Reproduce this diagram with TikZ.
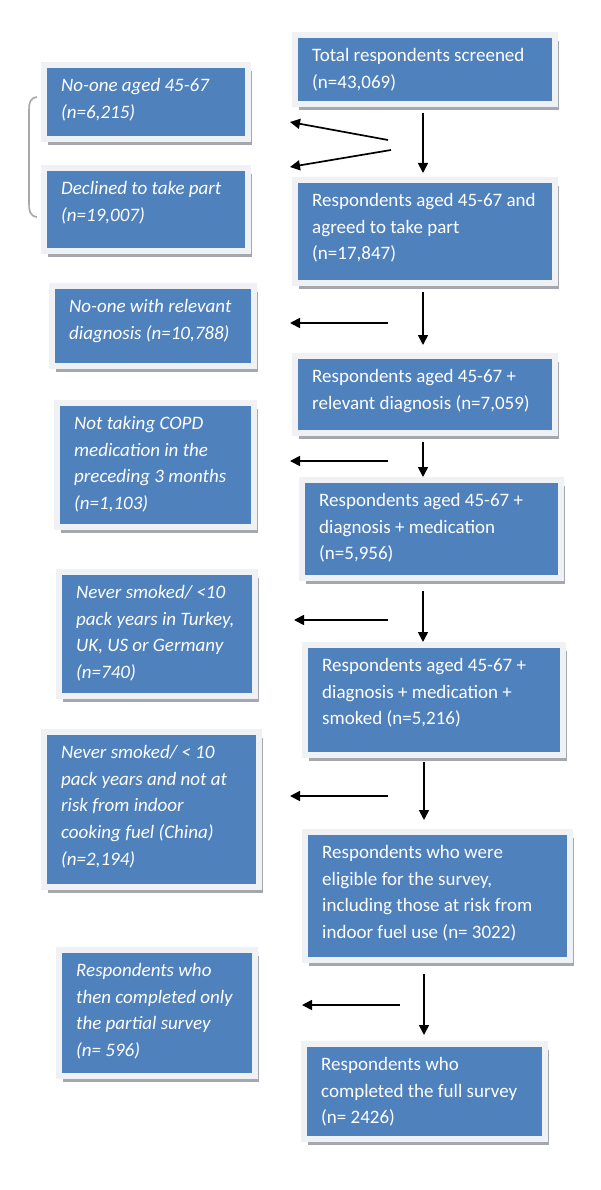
\documentclass[tikz,border=0pt]{standalone}
\usepackage{fontspec}
\setmainfont{Carlito}
\usetikzlibrary{arrows.meta,shadows}
\definecolor{boxblue}{HTML}{4F81BD}
\definecolor{framec}{HTML}{F0F1F4}
\definecolor{shadowc}{HTML}{A4A7AD}
\definecolor{bracec}{HTML}{A8A8A8}
\newcommand\flowbox[6]{%
  \pgfmathsetmacro\fbW{#4-#2+6}\pgfmathsetmacro\fbH{#5-#3+6}%
  \node[box, minimum width=\fbW pt, minimum height=\fbH pt] (#1) at ({(#2+#4)/2},{(#3+#5)/2}) {};
  \node[txt, anchor=north west] (#1t) at ({#2+14},{#3+10}) {#6};
}
\tikzset{
  box/.style={rectangle, draw=framec, line width=6pt, fill=boxblue, inner sep=0pt,
    drop shadow={shadow xshift=3.5pt, shadow yshift=-6pt, fill=shadowc, opacity=1}},
  txt/.style={align=left, inner sep=0pt, text=white,
    font=\fontsize{19}{26.7}\selectfont},
  arr/.style={line width=1.7pt, -{Triangle[length=10pt,width=10pt]}},
  bracket/.style={draw=bracec, line width=1.6pt}
}
\begin{document}
\begin{tikzpicture}[x=1pt,y=-1pt]
\useasboundingbox[fill=white] (0,0) rectangle (600,1190);
% right column
\flowbox{total}{298}{38}{552}{101}{Total respondents screened\\(n=43,069)}
\flowbox{agreed}{298}{183}{552}{280}{Respondents aged 45-67 and\\agreed to take part\\(n=17,847)}
\flowbox{relev}{298}{359}{552}{430}{Respondents aged 45-67 +\\relevant diagnosis (n=7,059)}
\flowbox{diagmed}{305}{483}{558}{575}{Respondents aged 45-67 +\\diagnosis + medication\\(n=5,956)}
\flowbox{smoked}{308}{648}{560}{752}{Respondents aged 45-67 +\\diagnosis + medication +\\smoked (n=5,216)}
\flowbox{elig}{308}{835}{567}{957}{Respondents who were\\eligible for the survey,\\including those at risk from\\indoor fuel use (n= 3022)}
\flowbox{full}{307}{1047}{542}{1136}{Respondents who\\completed the full survey\\(n= 2426)}
% left column
\flowbox{noage}{47}{68}{245}{136}{\itshape No-one aged 45-67\\\itshape (n=6,215)}
\flowbox{declined}{47}{171}{245}{248}{\itshape Declined to take part\\\itshape (n=19,007)}
\flowbox{nodiag}{55}{289}{251}{363}{\itshape No-one with relevant\\\itshape diagnosis (n=10,788)}
\flowbox{nomed}{60}{406}{251}{524}{\itshape Not taking COPD\\\itshape medication in the\\\itshape preceding 3 months\\\itshape (n=1,103)}
\flowbox{nosmoke}{62}{575}{252}{693}{\itshape Never smoked/ <10\\\itshape pack years in Turkey,\\\itshape UK, US or Germany\\\itshape (n=740)}
\flowbox{nochina}{47}{735}{256}{884}{\itshape Never smoked/ < 10\\\itshape pack years and not at\\\itshape risk from indoor\\\itshape cooking fuel (China)\\\itshape (n=2,194)}
\flowbox{partial}{62}{953}{252}{1073}{\itshape Respondents who\\\itshape then completed only\\\itshape the partial survey\\\itshape (n= 596)}
% bracket
\draw[bracket] (37,97) .. controls (30,98) and (29,103) .. (29,110) -- (29,204) .. controls (29,211) and (30,216) .. (37,217);
% coordinates for arrow columns
\coordinate (vx1) at (423,0);
\coordinate (vx2) at (424,0);
% vertical arrows
\draw[arr, shorten <=6pt, shorten >=4pt] (total.south -| vx1) -- (agreed.north -| vx1);
\draw[arr, shorten <=6pt, shorten >=8pt] (agreed.south -| vx1) -- (relev.north -| vx1);
\draw[arr, shorten <=6pt, shorten >=0pt] (relev.south -| vx1) -- (diagmed.north -| vx1);
\draw[arr, shorten <=10pt, shorten >=0pt] (diagmed.south -| vx1) -- (smoked.north -| vx1);
\draw[arr, shorten <=4pt, shorten >=9pt] (smoked.south -| vx2) -- (elig.north -| vx2);
\draw[arr, shorten <=11pt, shorten >=6pt] (elig.south -| vx2) -- (full.north -| vx2);
% split arrows to excluded boxes
\coordinate (s1) at (388,140);
\coordinate (s2) at (391,150);
\coordinate (t1) at (290,122);
\coordinate (t2) at (290,167);
\draw[arr] (s1) -- (t1);
\draw[arr] (s2) -- (t2);
\coordinate (h1) at (388,323);
\coordinate (h2) at (388,461);
\coordinate (h3) at (388,620);
\coordinate (h4) at (388,796);
\coordinate (h5) at (400,1005);
\draw[arr, shorten >=33pt] (h1) -- (h1 -| nodiag.east);
\draw[arr, shorten >=33pt] (h2) -- (h2 -| nomed.east);
\draw[arr, shorten >=36pt] (h3) -- (h3 -| nosmoke.east);
\draw[arr, shorten >=28pt] (h4) -- (h4 -| nochina.east);
\draw[arr, shorten >=44pt] (h5) -- (h5 -| partial.east);
\end{tikzpicture}
\end{document}
